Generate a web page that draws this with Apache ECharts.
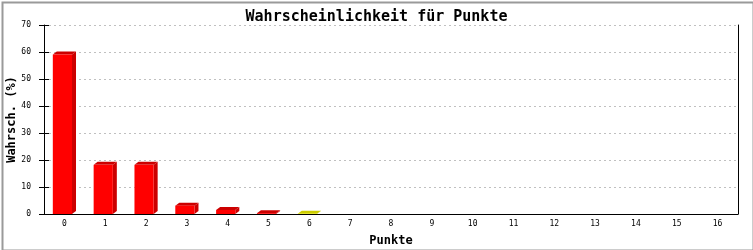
<!DOCTYPE html>
<html><head><meta charset="utf-8">
<script src="https://cdn.jsdelivr.net/npm/echarts@6/dist/echarts.min.js"></script>
<style>html,body{margin:0;padding:0;background:#fff}#c{width:753px;height:250px}</style>
</head><body><div id="c"></div>
<script>
const categories = ['0','1','2','3','4','5','6','7','8','9','10','11','12','13','14','15','16'];
const values = [59.1, 18.2, 18.2, 3.1, 1.5, 0.3, 0.1, 0, 0, 0, 0, 0, 0, 0, 0, 0, 0];
const yTicks = [0, 10, 20, 30, 40, 50, 60, 70];
const titleText = 'Wahrscheinlichkeit für Punkte';
const yName = 'Wahrsch. (%)';
const xName = 'Punkte';
const faceColors = ['#ff0000','#ff0000','#ff0000','#ff0000','#ff0000','#ff0000','#ffff00','#ff0000','#ff0000','#ff0000','#ff0000','#ff0000','#ff0000','#ff0000','#ff0000','#ff0000','#ff0000'];
const shadeColors = ['#cc0000','#cc0000','#cc0000','#cc0000','#cc0000','#cc0000','#cccc00','#cc0000','#cc0000','#cc0000','#cc0000','#cc0000','#cc0000','#cc0000','#cc0000','#cc0000','#cc0000'];

const chart = echarts.init(document.getElementById('c'), null, {renderer:'canvas'});
const mono = 'DejaVu Sans Mono';
const data = values.map((v,i)=>[i, v]);
chart.setOption({
  animation:false,
  graphic:[{type:'rect', left:0, top:0, silent:true, z:100,
    shape:{x:1, y:1, width:751, height:248}, style:{fill:'none', stroke:'#9a9a9a', lineWidth:2}}],
  title:{text:titleText, left:'center', top:5, textStyle:{fontFamily:mono, fontWeight:'bold', fontSize:15, color:'#000'}},
  grid:{left:44, right:15, top:25, bottom:36, outerBoundsMode:'none', containLabel:false},
  xAxis:{type:'category', data:categories, name:xName, nameLocation:'middle', nameGap:21, nameMoveOverlap:false,
    nameTextStyle:{fontFamily:mono, fontWeight:'bold', fontSize:12, color:'#000'},
    axisLine:{lineStyle:{color:'#000', width:1}}, axisTick:{show:false},
    axisLabel:{fontFamily:mono, fontSize:8, color:'#000', margin:6}},
  yAxis:[
    {type:'value', min:0, max:70, interval:10, name:yName, nameLocation:'middle', nameGap:26, nameMoveOverlap:false,
     nameTextStyle:{fontFamily:mono, fontWeight:'bold', fontSize:12, color:'#000'},
     axisLine:{show:true, lineStyle:{color:'#000'}}, axisTick:{show:true, length:5, lineStyle:{color:'#000'}},
     axisLabel:{fontFamily:mono, fontSize:8, color:'#000', margin:13, formatter:(v)=> yTicks.includes(v)? String(v):''},
     splitLine:{show:true, lineStyle:{color:'#c0c0c0', type:[2,3]}}},
    {type:'value', min:0, max:70, interval:10, position:'left',
     axisLine:{show:false}, axisTick:{show:true, inside:true, length:5, lineStyle:{color:'#000'}},
     axisLabel:{show:false}, splitLine:{show:false}},
    {type:'value', min:0, max:70, interval:10, position:'right',
     axisLine:{show:true, lineStyle:{color:'#000'}}, axisTick:{show:false},
     axisLabel:{show:false}, splitLine:{show:false}}
  ],
  series:[{
    type:'custom', data:data, clip:false,
    renderItem:(params, api)=>{
      const i = api.value(0), v = api.value(1);
      if (!(v > 0)) return null;
      const top = api.coord([i, v]);
      const base = api.coord([i, 0]);
      const band = api.size([1, 0])[0];
      const cx = top[0];
      const fw = band * 0.47, dx = 4, dy = 3;
      const x0 = cx - (fw + dx) / 2, x1 = x0 + fw;
      const yt = top[1], yb = base[1];
      return {type:'group', children:[
        {type:'polygon', shape:{points:[[x1,yb],[x1,yt],[x1+dx,yt-dy],[x1+dx,Math.min(yb-dy, yb)]]}, style:{fill:shadeColors[i]}},
        {type:'polygon', shape:{points:[[x0,yt],[x0+dx,yt-dy],[x1+dx,yt-dy],[x1,yt]]}, style:{fill:shadeColors[i]}},
        {type:'rect', shape:{x:x0, y:yt, width:fw, height:yb-yt}, style:{fill:faceColors[i]}}
      ]};
    }
  }]
});
</script></body></html>
